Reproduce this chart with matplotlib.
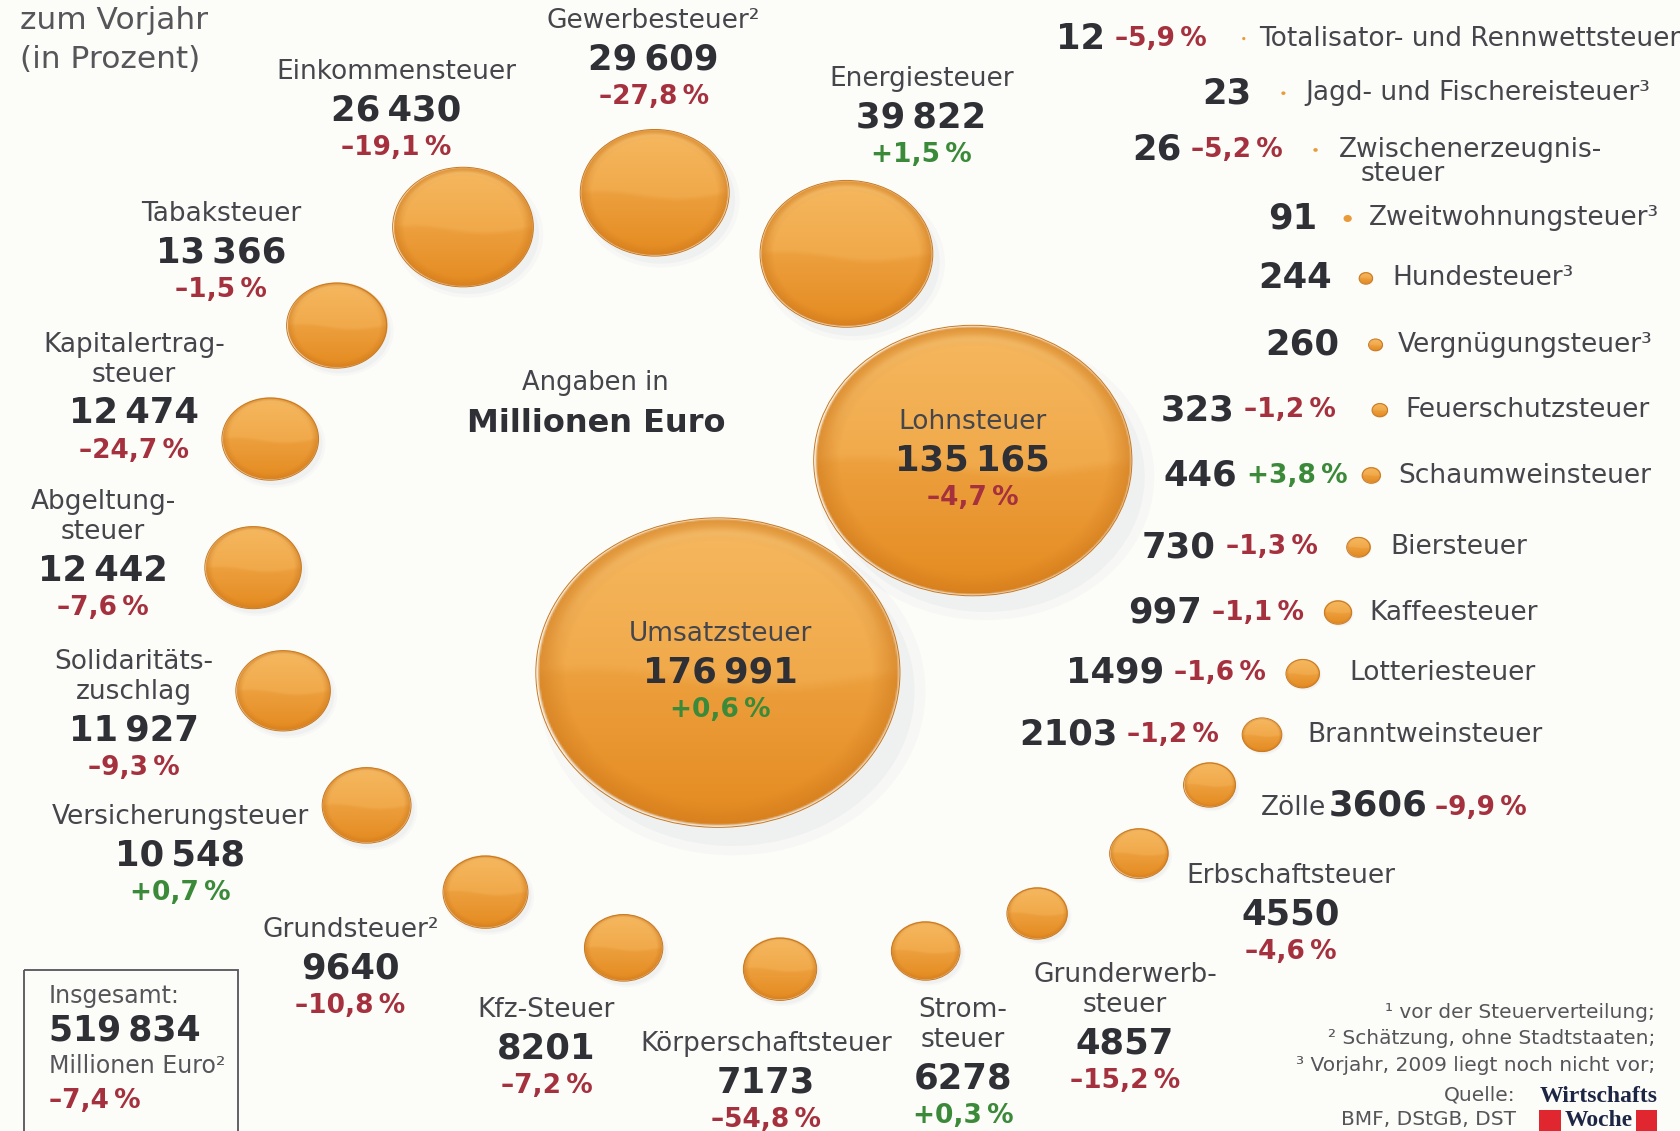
import numpy as np
import matplotlib
matplotlib.use("Agg")
import matplotlib.pyplot as plt
from matplotlib.patches import Ellipse, Rectangle

plt.rcParams['font.family'] = ['Liberation Sans Narrow', 'DejaVu Sans']

# --- data (Mio. Euro, change vs. previous year in %) ---
taxes = ["Umsatzsteuer", "Lohnsteuer", "Energiesteuer", "Gewerbesteuer", "Einkommensteuer",
         "Tabaksteuer", "Kapitalertragsteuer", "Abgeltungsteuer", "Solidaritätszuschlag",
         "Versicherungsteuer", "Grundsteuer", "Kfz-Steuer", "Körperschaftsteuer", "Stromsteuer",
         "Grunderwerbsteuer", "Erbschaftsteuer", "Zölle", "Branntweinsteuer", "Lotteriesteuer",
         "Kaffeesteuer", "Biersteuer", "Schaumweinsteuer", "Feuerschutzsteuer", "Vergnügungsteuer",
         "Hundesteuer", "Zweitwohnungsteuer", "Zwischenerzeugnissteuer",
         "Jagd- und Fischereisteuer", "Totalisator- und Rennwettsteuer"]
display_names = ["Umsatzsteuer", "Lohnsteuer", "Energiesteuer", "Gewerbesteuer²", "Einkommensteuer",
                 "Tabaksteuer", "Kapitalertrag-\nsteuer", "Abgeltung-\nsteuer", "Solidaritäts-\nzuschlag",
                 "Versicherungsteuer", "Grundsteuer²", "Kfz-Steuer", "Körperschaftsteuer", "Strom-\nsteuer",
                 "Grunderwerb-\nsteuer", "Erbschaftsteuer", "Zölle", "Branntweinsteuer", "Lotteriesteuer",
                 "Kaffeesteuer", "Biersteuer", "Schaumweinsteuer", "Feuerschutzsteuer", "Vergnügungsteuer³",
                 "Hundesteuer³", "Zweitwohnungsteuer³", "Zwischenerzeugnis-\nsteuer",
                 "Jagd- und Fischereisteuer³", "Totalisator- und Rennwettsteuer"]
values = [176991, 135165, 39822, 29609, 26430, 13366, 12474, 12442, 11927, 10548, 9640, 8201,
          7173, 6278, 4857, 4550, 3606, 2103, 1499, 997, 730, 446, 323, 260, 244, 91, 26, 23, 12]
changes = [0.6, -4.7, 1.5, -27.8, -19.1, -1.5, -24.7, -7.6, -9.3, 0.7, -10.8, -7.2, -54.8, 0.3,
           -15.2, -4.6, -9.9, -1.2, -1.6, -1.1, -1.3, 3.8, -1.2, None, None, None, -5.2, None, -5.9]
total_value = 519834
total_change = -7.4
footnotes = ["¹ vor der Steuerverteilung;", "² Schätzung, ohne Stadtstaaten;",
             "³ Vorjahr, 2009 liegt noch nicht vor;"]

# --- layout (canvas units, 1568 x 1056) ---
centers = [(670, 628), (908, 430), (790, 237), (611, 180), (432, 212), (314, 304), (252, 410),
           (236, 530), (264, 645), (342, 752), (453, 833), (582, 885), (728, 905), (864, 888),
           (968, 853), (1063, 797), (1129, 733), (1178, 686), (1216, 629), (1249, 572), (1268, 511),
           (1280, 444), (1288, 383), (1284, 322), (1275, 260), (1258, 204), (1228, 140), (1198, 87),
           (1161, 36)]
stack_pos = {0: (672, 592), 1: (908, 394), 2: (860, 74), 3: (610, 20), 4: (370, 67), 5: (206, 200),
             6: (125, 322), 7: (96, 469), 8: (125, 618), 9: (168, 763), 10: (327, 868),
             11: (510, 943), 12: (715, 975), 13: (899, 943), 14: (1050, 910), 15: (1205, 818)}
# row items: index -> (y, right edge of number, left edge of name)
row_pos = {28: (36, 1032, 1175), 27: (87, 1168, 1218), 26: (140, 1103, 1250), 25: (204, 1230, 1278),
           24: (260, 1243, 1300), 23: (322, 1250, 1305), 22: (383, 1152, 1312), 21: (444, 1155, 1305),
           20: (511, 1135, 1298), 19: (572, 1122, 1278), 18: (628, 1087, 1260), 17: (686, 1043, 1220)}

K = 340 / np.sqrt(values[0])   # bubble width per sqrt(value)
SQUASH = 0.85                  # bubbles are slightly flattened ellipses

C_NAME = "#45454c"
C_NUM = "#2f2f36"
C_NEG = "#a5303e"
C_POS = "#3b8a3a"
BG = "#fcfcf8"


def fmt_num(v):
    s = str(v)
    if v >= 10000:
        s = s[:-3] + "\u2009" + s[-3:]
    return s


def fmt_pct(c):
    sign = "+" if c > 0 else "–"
    return f"{sign}{abs(c):.1f}".replace(".", ",") + "\u2009%"


def bubble_image(n=200):
    yy, xx = np.mgrid[-1:1:n * 1j, -1:1:n * 1j]
    r = np.hypot(xx, yy)
    top = np.array([245, 182, 92]) / 255
    bot = np.array([228, 138, 32]) / 255
    t = np.clip((yy + 1) / 2, 0, 1)[..., None]
    col = top * (1 - t) + bot * t
    # glossy upper half with wavy boundary
    vb = 0.08 + 0.06 * np.sin(np.pi * (xx + 0.2))
    hl = np.clip((vb - yy) / 0.08, 0, 1)[..., None]
    col = col * (1 - 0.35 * hl) + np.array([248, 188, 100]) / 255 * 0.35 * hl
    # darker rim
    rim = np.clip((r - 0.84) / 0.16, 0, 1)[..., None]
    col = col * (1 - 0.6 * rim) + np.array([205, 120, 28]) / 255 * 0.6 * rim
    # thin light ring at the top
    ring = (np.exp(-((r - 0.9) / 0.035) ** 2) * np.clip(-yy - 0.1, 0, 1))[..., None]
    col = col * (1 - 0.5 * ring) + np.array([250, 205, 130]) / 255 * 0.5 * ring
    alpha = np.clip((1 - r) * n / 3, 0, 1)
    return np.dstack([np.clip(col, 0, 1), alpha])


fig = plt.figure(figsize=(16.8, 11.31), dpi=100, facecolor=BG)
ax = fig.add_axes([0, 0, 1, 1])
ax.axis("off")
ax.set_facecolor(BG)

img = bubble_image()

for i, v in enumerate(values):
    cx, cy = centers[i]
    w = K * np.sqrt(v)
    h = w * SQUASH
    if w > 12:
        for s, a in [(1.06, 0.05), (1.0, 0.08)]:
            ax.add_patch(Ellipse((cx + 0.04 * w, cy + 0.06 * h), w * s, h * s,
                                 color="#9aa6c0", alpha=a, lw=0, zorder=1))
        ax.imshow(img, extent=(cx - w / 2, cx + w / 2, cy + h / 2, cy - h / 2),
                  origin="upper", zorder=2, interpolation="bilinear")
        ax.add_patch(Ellipse((cx, cy), w, h, fill=False, ec="#c8781f", lw=0.7, zorder=3))
    else:
        ax.add_patch(Ellipse((cx, cy), max(w, 3), max(h, 3), color="#eb9a3a", lw=0, zorder=3))
ax.set_xlim(0, 1568)
ax.set_ylim(1056, 0)


def pct_color(c):
    return C_POS if c > 0 else C_NEG


# stacked labels
for i, (x, y) in stack_pos.items():
    lines = display_names[i].split("\n")
    for j, ln in enumerate(lines):
        ax.text(x, y + 28 * j, ln, ha="center", va="center", fontsize=19, color=C_NAME, zorder=5)
    yn = y + 28 * (len(lines) - 1) + 36
    ax.text(x, yn, fmt_num(values[i]), ha="center", va="center", fontsize=25.5,
            fontweight="bold", color=C_NUM, zorder=5)
    if changes[i] is not None:
        ax.text(x, yn + 35, fmt_pct(changes[i]), ha="center", va="center", fontsize=19,
                fontweight="bold", color=pct_color(changes[i]), zorder=5)

# right-hand list
for i, (y, xr, xn) in row_pos.items():
    ax.text(xr, y, fmt_num(values[i]), ha="right", va="center", fontsize=25.5,
            fontweight="bold", color=C_NUM)
    if changes[i] is not None:
        ax.text(xr + 9, y, fmt_pct(changes[i]), ha="left", va="center", fontsize=19,
                fontweight="bold", color=pct_color(changes[i]))
    lines = display_names[i].split("\n")
    ax.text(xn, y, lines[0], ha="left", va="center", fontsize=19, color=C_NAME)
    if len(lines) > 1:
        ax.text(xn + 20, y + 22, lines[1], ha="left", va="center", fontsize=19, color=C_NAME)

# Zölle
ax.text(1177, 754, display_names[16], ha="left", va="center", fontsize=19, color=C_NAME)
ax.text(1240, 752, fmt_num(values[16]), ha="left", va="center", fontsize=25.5,
        fontweight="bold", color=C_NUM)
ax.text(1340, 754, fmt_pct(changes[16]), ha="left", va="center", fontsize=19,
        fontweight="bold", color=C_NEG)

# headers
ax.text(18, 19, "zum Vorjahr", ha="left", va="center", fontsize=22.5, color="#55555a")
ax.text(18, 56, "(in Prozent)", ha="left", va="center", fontsize=22.5, color="#55555a")
ax.text(556, 358, "Angaben in", ha="center", va="center", fontsize=18.5, color=C_NAME)
ax.text(556, 395, "Millionen Euro", ha="center", va="center", fontsize=23,
        fontweight="bold", color=C_NUM)

# total box
ax.add_patch(Rectangle((22, 906), 200, 170, fill=False, ec="#55555a", lw=1.3, clip_on=False))
ax.text(45, 930, "Insgesamt:", ha="left", va="center", fontsize=17, color="#55555a")
ax.text(45, 962, fmt_num(total_value), ha="left", va="center", fontsize=25,
        fontweight="bold", color=C_NUM)
ax.text(45, 995, "Millionen Euro²", ha="left", va="center", fontsize=17, color="#55555a")
ax.text(45, 1028, fmt_pct(total_change), ha="left", va="center", fontsize=19,
        fontweight="bold", color=C_NEG)

# footnotes and source
for j, fn in enumerate(footnotes):
    ax.text(1545, 945 + 25 * j, fn, ha="right", va="center", fontsize=14.5, color="#55555a")
ax.text(1415, 1022, "Quelle:", ha="right", va="center", fontsize=14.5, color="#55555a")
ax.text(1415, 1045, "BMF, DStGB, DST", ha="right", va="center", fontsize=14.5, color="#55555a")
ax.text(1492, 1024, "Wirtschafts", ha="center", va="center", fontsize=17, fontweight="bold",
        family=["Liberation Serif", "DejaVu Serif"], color="#1e2645")
ax.text(1492, 1046, "Woche", ha="center", va="center", fontsize=17, fontweight="bold",
        family=["Liberation Serif", "DejaVu Serif"], color="#1e2645")
ax.add_patch(Rectangle((1437, 1036), 20, 20, color="#e0262e", lw=0))
ax.add_patch(Rectangle((1527, 1036), 20, 20, color="#e0262e", lw=0))

fig.savefig("out.png", dpi=100, facecolor=BG)
